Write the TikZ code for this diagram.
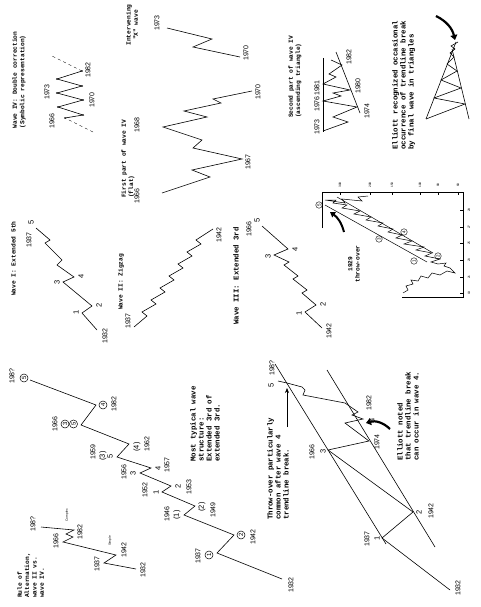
\documentclass[tikz,border=0pt]{standalone}
\usepackage{fontspec}
\usetikzlibrary{arrows.meta}
\newfontfamily\capfam{Liberation Mono}
\newfontfamily\numfam{Liberation Sans}
\newcommand\capfontL{\capfam\bfseries\fontsize{7.4}{8}\selectfont}
\newcommand\capfontS{\capfam\bfseries\fontsize{6.2}{7.4}\selectfont}
\newcommand\numfont{\numfam\fontsize{7}{8}\selectfont}
\newcommand\digfont{\numfam\fontsize{7.5}{8}\selectfont}
\newcommand\tinyfont{\numfam\fontsize{3.2}{4}\selectfont}
\tikzset{
  captL/.style={font=\capfontL, rotate=90, align=left, inner sep=0pt, anchor=north west},
  captS/.style={font=\capfontS, rotate=90, align=left, inner sep=0pt, anchor=north west},
  yr/.style={font=\numfont, rotate=90, inner sep=0pt},
  dg/.style={font=\digfont, rotate=90, inner sep=0pt},
  circ/.style={circle, draw, line width=0.5pt, inner sep=0pt, minimum size=8pt, font=\numfam\fontsize{6}{6}\selectfont, rotate=90},
  circs/.style={circle, draw, line width=0.4pt, inner sep=0pt, minimum size=6.5pt, font=\numfam\fontsize{4.5}{5}\selectfont, rotate=90},
  wave/.style={line width=0.6pt, line join=miter},
  tlabel/.style={font=\tinyfont, rotate=90, inner sep=0pt},
  fatarrow/.style={line width=2.2pt, -{Triangle[length=5pt,width=7pt]}},
}
\begin{document}
\begin{tikzpicture}[x=1pt,y=-1pt]
\useasboundingbox (0,0) rectangle (480,607);
\fill[white] (0,0) rectangle (480,607);

% ---------- captions ----------
\node[captS, anchor=center, align=left] (c1) at (19,80) {Wave IV: Double correction\\(Symbolic representation)};
\node[captS] (c2) at (121,198) {First part of wave IV\\(flat)};
\node[captS, anchor=center, align=center] (c3) at (132,25) {Intervening\\"X" wave};
\node[captS] (c4) at (288,118) {Second part of wave IV\\(ascending triangle)};
\node[captL] (c5) at (392,150) {Elliott recognized occasional\\occurrence of trendline break\\by final wave in triangles};
\node[captS] (c6) at (11,296) {Wave I: Extended 5th};
\node[captS] (c7) at (118,310) {Wave II: Zigzag};
\node[captL] (c8) at (233,325) {Wave III: Extended 3rd};
\node[captS, anchor=center, align=center] (c9) at (354,264) {1929\\throw-over};
\node[captL] (c10) at (190,462) {Most typical wave\\structure:\\Extended 3rd of\\extended 3rd.};
\node[captS] (c11) at (17,598) {Rule of\\Alternation,\\wave II vs.\\wave IV.};
\node[captL] (c12) at (267,520) {Throw-over particularly\\common after wave 4\\trendline break.};
\node[captL] (c13) at (397,461) {Elliott noted\\that trendline break\\can occur in wave 4.};

% ---------- Wave IV symbolic ----------
\draw[dashed, line width=0.4pt] (93,132) -- (65,118);
\draw[dashed, line width=0.4pt] (82,71) -- (50,55);
\draw[wave] (65,118) -- (83,115) -- (58,107) -- (83,100) -- (57,93) -- (82,86) -- (57,79) -- (82,71);
\foreach \p in {(65,118),(83,115),(58,107),(83,100),(57,93),(82,86),(57,79),(82,71)} \fill \p circle (0.9);
\node[yr] (s1966) at (52,121) {1966};
\node[yr] (s1973) at (47,92) {1973};
\node[yr] (s1970) at (92,100) {1970};
\node[yr] (s1982) at (88,70) {1982};

% ---------- Intervening X ----------
\draw[wave] (167,28) -- (212,39) -- (193,47) -- (240,57);
\node[yr] (x1973) at (157,23) {1973};
\node[yr] (x1970) at (246,53) {1970};

% ---------- Flat ----------
\draw[wave] (162,193) -- (210,177) -- (192,170) -- (242,159) -- (193,148) -- (202,140) -- (163,127) -- (207,117) -- (184,111) -- (221,103) -- (213,99) -- (252,91);
\node[yr] (f1966) at (137,196) {1966};
\node[yr] (f1968) at (137,125) {1968};
\node[yr] (f1967) at (248,162) {1967};
\node[yr] (f1970) at (258,92) {1970};

% ---------- Ascending triangle ----------
\draw[wave] (323,58) -- (323,132);
\draw[wave] (360,113) -- (336,52);
\draw[wave] (323,131) -- (348,122) -- (333,117) -- (357,107) -- (323,101) -- (341,96) -- (333,93) -- (350,90) -- (323,84) -- (336,77) -- (329,74) -- (342,65) -- (331,60);
\node[yr] (t1973) at (317,127) {1973};
\node[yr] (t1976) at (317,104) {1976};
\node[yr] (t1981) at (317,88) {1981};
\node[yr] (t1980) at (358,86) {1980};
\node[yr] (t1982) at (349,57) {1982};
\node[yr] (t1974) at (367,111) {1974};

% ---------- Symmetrical triangle ----------
\draw[wave] (426,119) -- (456,42);
\draw[wave] (469,119) -- (452,49);
\draw[wave] (426,119) -- (465,104) -- (434,98) -- (461,88) -- (441,80) -- (457,71) -- (447,64) -- (454,57) -- (450,53) -- (455,49) -- (451,46) -- (458,42);
\draw[fatarrow] (436,16) to[bend left=25] (455,40);

% ---------- Wave I ----------
\draw[wave] (97,330) -- (82,313) -- (92,306) -- (63,282) -- (74,277) -- (57,265) -- (62,260) -- (45,243) -- (50,240) -- (36,228);
\node[yr] (i1932) at (105,336) {1932};
\node[dg] (i1) at (76,312) {1};
\node[dg] (i2) at (99,305) {2};
\node[dg] (i3) at (57,282) {3};
\node[dg] (i4) at (81,276) {4};
\node[dg] (i5) at (31,222) {5};
\node[yr] (i1937) at (29,240) {1937};

% ---------- Wave II ----------
\draw[wave] (134,327) -- (147,316) -- (142,312) -- (156,304) -- (151,300) -- (165,292) -- (160,288) -- (174,280) -- (169,276) -- (183,268) -- (178,264) -- (192,256) -- (187,252) -- (201,244) -- (196,240) -- (213,229);
\node[yr] (ii1937) at (128,321) {1937};
\node[yr] (ii1942) at (219,235) {1942};

% ---------- Wave III ----------
\draw[wave] (322,328) -- (305,312) -- (316,305) -- (302,293) -- (307,290) -- (293,279) -- (298,276) -- (284,265) -- (289,262) -- (274,255) -- (288,249) -- (262,226);
\node[yr] (iii1942) at (329,331) {1942};
\node[dg] (iii1) at (299,313) {1};
\node[dg] (iii2) at (323,304) {2};
\node[dg] (iii3) at (268,256) {3};
\node[dg] (iii4) at (295,249) {4};
\node[dg] (iii5) at (257,220) {5};
\node[yr] (iii1966) at (249,229) {1966};

% ---------- Main wave ----------
\draw[wave] (282,579) -- (217,553) -- (234,535) -- (184,515) -- (195,506) -- (162,492) -- (171,486) -- (140,473) -- (151,468) -- (117,457) -- (129,444) -- (81,425) -- (96,405) -- (30,380);
\node[yr] (m1932) at (291,585) {1932};
\node[yr] (m1937) at (198,556) {1937};
\node[circ] (mc1) at (209,555) {1};
\node[circ] (mc2) at (241,535) {2};
\node[yr] (m1942) at (253,537) {1942};
\node[dg] (mp1) at (177,515) {(1)};
\node[yr] (m1946) at (167,514) {1946};
\node[dg] (mp2) at (202,507) {(2)};
\node[yr] (m1949) at (213,510) {1949};
\node[dg] (m1) at (156,492) {1};
\node[yr] (m1952) at (145,490) {1952};
\node[dg] (m2) at (178,486) {2};
\node[yr] (m1953) at (189,487) {1953};
\node[dg] (m3) at (133,473) {3};
\node[yr] (m1956) at (124,472) {1956};
\node[dg] (m4) at (158,468) {4};
\node[yr] (m1957) at (167,465) {1957};
\node[dg] (m5) at (110,456) {5};
\node[dg] (mp3) at (103,456) {(3)};
\node[yr] (m1959) at (93,452) {1959};
\node[dg] (mp4) at (137,447) {(4)};
\node[yr] (m1962) at (147,444) {1962};
\node[circ] (mc3) at (65,424) {3};
\node[circ] (mc5) at (73.5,424) {5};
\node[yr] (m1966) at (55,424) {1966};
\node[circ] (mc4) at (103,405) {4};
\node[yr] (m1982) at (114,404) {1982};
\node[circ] (mc5b) at (24,378) {5};
\node[yr] (m198q) at (12,376) {198?};

% ---------- Alternation ----------
\draw[wave] (136,569) -- (104,563) -- (116,555) -- (63,542) -- (73,537) -- (66,534) -- (74,530) -- (41,527);
\node[yr] (a1932) at (143,570) {1932};
\node[yr] (a1937) at (97,564) {1937};
\node[yr] (a1942) at (124,550) {1942};
\node[tlabel] (asimple) at (110,541) {Simple};
\node[yr] (a1966) at (56,541) {1966};
\node[tlabel] (acomplex) at (67,515) {Complex};
\node[yr] (a1982) at (80,532) {1982};
\node[yr] (a198q) at (33,524) {198?};

% ---------- Throw-over diagram ----------
\draw[wave] (386,544) -- (275,364);
\draw[wave] (435,547) -- (327,370);
\draw[wave] (450,590) -- (382,538) -- (413,512) -- (328,450) -- (369,441) -- (345,423) -- (363,419) -- (352,415) -- (358,412) -- (345,403) -- (303,395) -- (305,390) -- (302,387) -- (287,383) -- (278,381);
\node[yr] (o1932) at (458,588) {1932};
\node[dg] (o1) at (377,538) {1};
\node[yr] (o1937) at (367,539) {1937};
\node[dg] (o2) at (419,512) {2};
\node[yr] (o1942) at (431,511) {1942};
\node[dg] (o3) at (323,451) {3};
\node[yr] (o1966) at (312,452) {1966};
\node[yr] (o1974) at (377,442) {1974};
\node[dg] (o4) at (372,420) {4};
\node[yr] (o1982) at (369,403) {1982};
\node[dg] (o5) at (271,385) {5};
\node[yr] (o198q) at (272,368) {198?};
\coordinate (arrS) at (287,427);
\coordinate (arrE) at (287,388);
\draw[line width=0.6pt, -{Stealth[length=5pt,width=4pt]}] (arrS) -- (arrE);
\draw[fatarrow] (390,429) to[bend right=30] (366,423);

% ---------- 1929 chart ----------
\draw[line width=0.5pt] (322,228) -- (322,192) -- (463,192) -- (463,297) -- (402,297);
\foreach \xx/\tt in {340/300,370/200,392/150,420/100,438/80,458/60} {
  \draw[line width=0.3pt] (\xx,192) -- (\xx,195);
  \node[tlabel] at (\xx,185) {\tt};
}
\foreach \yy/\tt in {210/29,227/27,243/25,260/23,277/21,293/19} {
  \draw[line width=0.3pt] (463,\yy) -- (460,\yy);
  \node[tlabel] at (469,\yy) {\tt};
}
\draw[line width=0.5pt] (325,205) -- (427,262);
\draw[line width=0.5pt] (337,197) -- (433,253);
\draw[line width=0.5pt] (403,293) -- (408,290) -- (406,286) -- (413,284) -- (411,280) -- (418,281) -- (421,276) -- (428,278) -- (432,273) -- (440,275) -- (447,271) -- (455,273) -- (450,268) -- (444,266) -- (446,263) -- (438,264) -- (431,262) -- (440,259) -- (425,256) -- (432,253) -- (416,250) -- (424,247) -- (404,244) -- (412,241) -- (396,238) -- (402,235) -- (388,232) -- (393,229) -- (378,226) -- (383,223) -- (366,220) -- (371,217) -- (354,214) -- (360,211) -- (342,208) -- (347,205) -- (333,203) -- (336,200) -- (325,200) -- (345,203) -- (342,199) -- (362,201) -- (358,197) -- (368,196);
\node[circs] (k1) at (414,261) {1};
\node[circs] (k2) at (438,256) {2};
\node[circs] (k3) at (379,239) {3};
\node[circs] (k4) at (404,232) {4};
\node[circs] (k5) at (319,205) {5};
\draw[line width=2pt, -{Triangle[length=5pt,width=6pt]}] (344,232) to[bend right=20] (330,212);
\end{tikzpicture}
\end{document}
